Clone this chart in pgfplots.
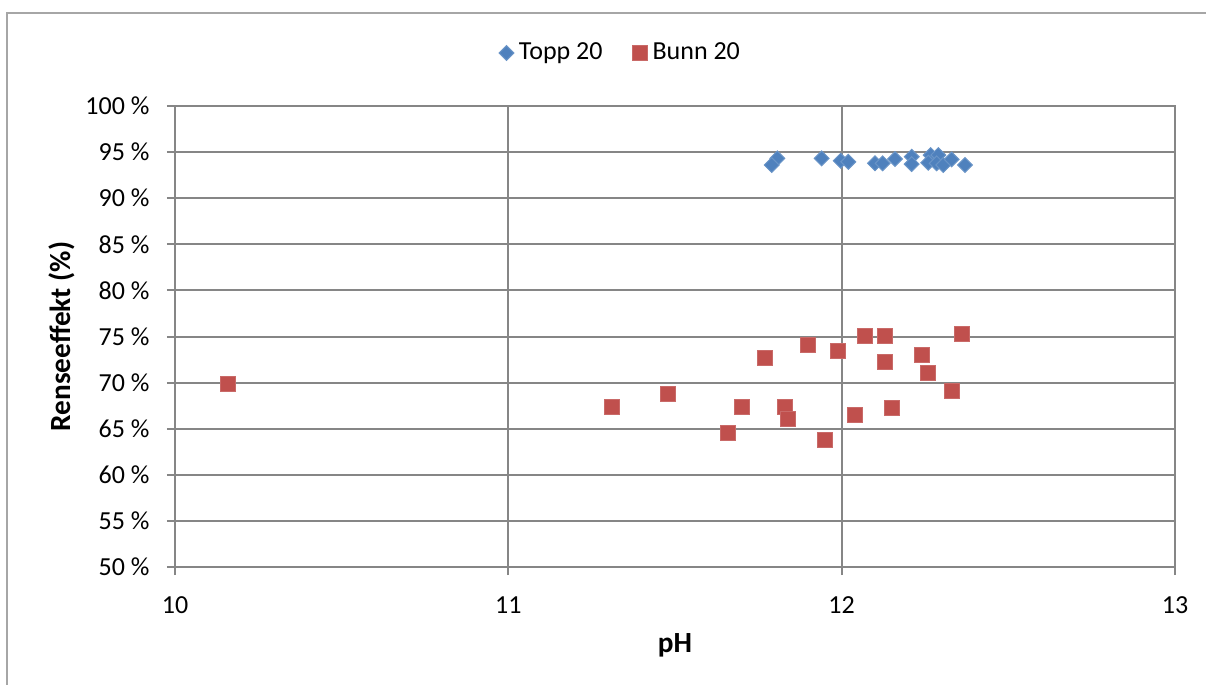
\documentclass[border=0pt]{standalone}
\usepackage{pgfplots}
\pgfplotsset{compat=1.18}
\usepackage{fontspec}
\setmainfont{Carlito}
\definecolor{topp}{HTML}{4F81BD}
\definecolor{bunn}{HTML}{C0504D}
\definecolor{gridc}{HTML}{868686}
\begin{document}
\begin{tikzpicture}
\useasboundingbox (0,0) rectangle (482.4pt,273.6pt);
\draw[color=gray!70, line width=0.7pt] (2.8pt,-2pt) -- (2.8pt,268.4pt) -- (490pt,268.4pt);
\begin{axis}[
  at={(70pt,46.8pt)}, anchor=south west,
  scale only axis, width=400pt, height=184.4pt,
  xmin=10, xmax=13, ymin=50, ymax=100,
  xtick={10,11,12,13}, ytick={50,55,60,65,70,75,80,85,90,95,100},
  yticklabels={50 \%,55 \%,60 \%,65 \%,70 \%,75 \%,80 \%,85 \%,90 \%,95 \%,100 \%},
  xticklabels={10,11,12,13},
  xtick pos=bottom, ytick pos=left,
  tick align=outside, major tick length=3.2pt,
  tick style={gridc, line width=0.8pt},
  axis line style={gridc, line width=0.8pt},
  grid=major, major grid style={gridc, line width=0.8pt},
  ticklabel style={font=\fontsize{10.4}{12.5}\selectfont},
  xticklabel style={yshift=-5pt},
  yticklabel style={xshift=-3.5pt},
  xlabel={pH}, ylabel={Renseeffekt (\%)},
  label style={font=\fontsize{11.7}{14}\selectfont\bfseries},
  xlabel style={at={(axis description cs:0.5,-0.169)}, anchor=center},
  ylabel style={at={(axis description cs:-0.113,0.5)}, anchor=center},
  legend style={at={(axis description cs:0.447,1.115)}, anchor=center, draw=none, fill=none,
    font=\fontsize{10.4}{12.5}\selectfont, legend columns=2,
    /tikz/every even column/.append style={column sep=10pt}},
  legend cell align=left,
  legend image code/.code={\draw[#1] plot coordinates {(0pt,0pt)};},
]
\addplot[only marks, mark=square*, mark size=2.1pt, mark options={rotate=45, fill=topp, draw=topp!85!white}] table {
x y
11.807 94.32
11.790 93.60
11.940 94.32
11.997 94.06
12.020 93.95
12.100 93.78
12.123 93.78
12.160 94.25
12.210 94.50
12.210 93.70
12.267 94.68
12.290 94.68
12.260 93.85
12.285 93.78
12.305 93.60
12.330 94.21
12.370 93.60
};
\addlegendentry{Topp 20}
\addplot[only marks, mark=square*, mark size=3pt, mark options={fill=bunn, draw=bunn!85!white}] table {
x y
10.160 69.83
11.310 67.36
11.480 68.81
11.660 64.54
11.700 67.36
11.770 72.72
11.830 67.36
11.840 66.10
11.900 74.13
11.950 63.75
11.990 73.44
12.040 66.46
12.070 75.07
12.130 75.07
12.130 72.25
12.150 67.25
12.240 72.97
12.260 70.99
12.330 69.14
12.360 75.25
};
\addlegendentry{Bunn 20}
\end{axis}
\end{tikzpicture}
\end{document}
